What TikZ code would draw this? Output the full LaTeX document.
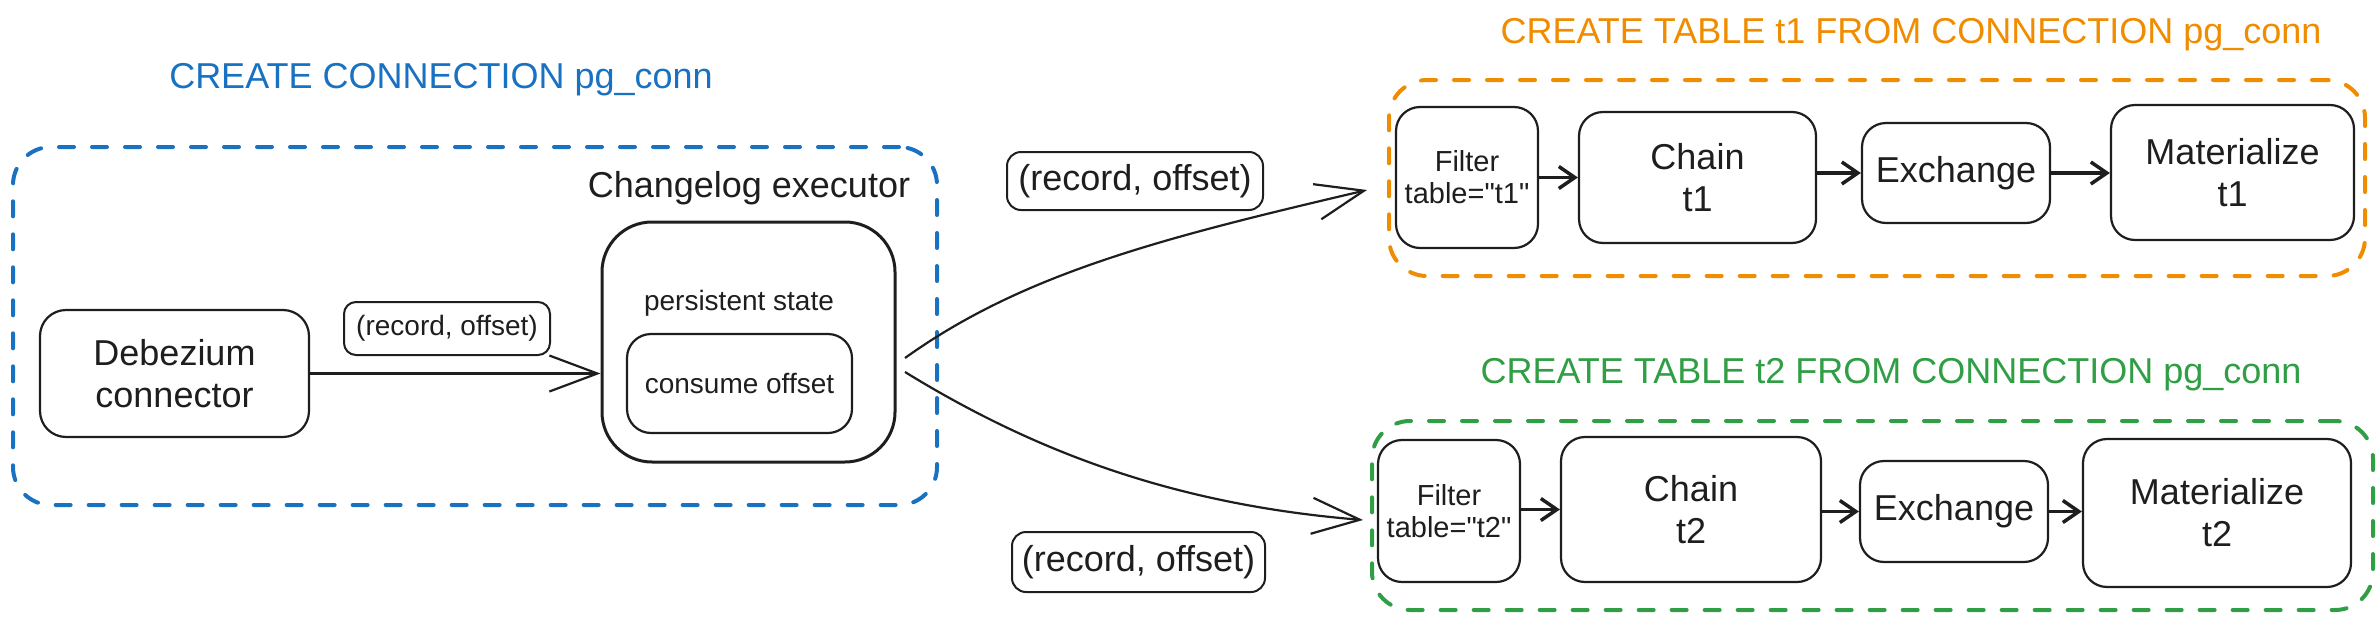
\documentclass[tikz,border=0pt]{standalone}
\usepackage{fontspec}
\setmainfont{Liberation Sans}[Ligatures=TeXOff]
\usetikzlibrary{arrows.meta}
\definecolor{ink}{HTML}{1E1E1E}
\definecolor{cblue}{HTML}{1971C2}
\definecolor{corange}{HTML}{F08C00}
\definecolor{cgreen}{HTML}{2F9E44}
\begin{document}
\begin{tikzpicture}[x=1pt,y=-1pt,
  box/.style={draw=ink, line width=2.2pt, rounded corners=24pt, inner sep=0pt, align=center, text=ink,
    font=\fontsize{36}{42}\selectfont},
  lbl/.style={draw=ink, line width=2pt, rounded corners=14pt, inner sep=0pt, align=center, text=ink,
    font=\fontsize{36}{42}\selectfont},
  frame/.style={draw=#1, line width=4pt, rounded corners=38pt, dash pattern=on 15pt off 18pt,
    line cap=round, inner sep=0pt},
  title/.style={anchor=base, text=#1, font=\fontsize{36}{42}\selectfont, inner sep=0pt},
  plain/.style={anchor=base, text=ink, inner sep=0pt},
  bigarr/.style={draw=ink, line width=2.2pt, -{Straight Barb[length=48pt,width=36pt]}},
  smallarr/.style={draw=ink, line width=3.5pt, -{Straight Barb[length=16pt,width=22pt]}}
]
\useasboundingbox (0,0) rectangle (2380,632);

% containers
\node[frame=cblue, minimum width=924pt, minimum height=358pt] (conn) at (475,326) {};
\node[frame=corange, minimum width=976pt, minimum height=196pt] (tab1) at (1877,178) {};
\node[frame=cgreen, minimum width=1001pt, minimum height=189pt] (tab2) at (1872.5,515.5) {};

% titles
\node[title=cblue] (ttl0) at (441,88) {CREATE CONNECTION pg\_conn};
\node[title=corange] (ttl1) at (1911,43) {CREATE TABLE t1 FROM CONNECTION pg\_conn};
\node[title=cgreen] (ttl2) at (1891,383) {CREATE TABLE t2 FROM CONNECTION pg\_conn};

% left part
\node[box, rounded corners=26pt, minimum width=269pt, minimum height=127pt] (deb) at (174.5,373.5) {Debezium\\connector};
\node[box, line width=3pt, rounded corners=50pt, minimum width=293pt, minimum height=240pt] (cl) at (748.5,342) {};
\node[plain, font=\fontsize{36}{42}\selectfont] (clt) at (749,197) {Changelog executor};
\node[plain, font=\fontsize{28}{34}\selectfont] (ps) at (739,310) {persistent state};
\node[box, rounded corners=24pt, minimum width=225pt, minimum height=99pt, font=\fontsize{28}{34}\selectfont] (cons) at (739.5,383.5) {consume offset};
\node[lbl, rounded corners=12pt, minimum width=206pt, minimum height=53pt, font=\fontsize{28}{34}\selectfont] (lab0) at (447,328.5) {(record, offset)};

\draw[bigarr] (deb.east) -- (deb.east -| cl.west);

% labels on fan-out
\node[lbl, minimum width=256pt, minimum height=58pt] (lab1) at (1135,181) {(record, offset)};
\node[lbl, minimum width=253pt, minimum height=60pt] (lab2) at (1138.5,562) {(record, offset)};

% pipeline t1
\node[box, minimum width=142pt, minimum height=141pt, font=\fontsize{29}{32}\selectfont] (f1) at (1467,177.5) {Filter\\table="t1"};
\node[box, minimum width=237pt, minimum height=131pt] (c1) at (1697.5,177.5) {Chain\\t1};
\node[box, minimum width=188pt, minimum height=100pt] (e1) at (1956,173) {Exchange};
\node[box, minimum width=243pt, minimum height=135pt] (m1) at (2232.5,172.5) {Materialize\\t1};
\draw[smallarr] (f1.east |- c1.west) -- (c1.west);
\draw[smallarr] (c1.east |- e1.west) -- (e1.west);
\draw[smallarr] (e1.east) -- (e1.east -| m1.west);

% pipeline t2
\node[box, minimum width=142pt, minimum height=142pt, font=\fontsize{29}{32}\selectfont] (f2) at (1449,511) {Filter\\table="t2"};
\node[box, minimum width=260pt, minimum height=145pt] (c2) at (1691,509.5) {Chain\\t2};
\node[box, minimum width=188pt, minimum height=101pt] (e2) at (1954,511.5) {Exchange};
\node[box, minimum width=268pt, minimum height=148pt] (m2) at (2217,513) {Materialize\\t2};
\draw[smallarr] (f2.east |- c2.west) -- (c2.west);
\draw[smallarr] (c2.east |- e2.west) -- (e2.west);
\draw[smallarr] (e2.east) -- (e2.east -| m2.west);

% fan-out curves
\coordinate (o1) at (905,358);
\coordinate (o2) at (905,372);
\coordinate (in1) at (1367,190);
\coordinate (in2) at (1363,520);
\draw[bigarr] (o1) .. controls (1025,272) and (1167,237) .. (in1);
\draw[bigarr] (o2) .. controls (1040,455) and (1180,505) .. (in2);
\end{tikzpicture}
\end{document}
